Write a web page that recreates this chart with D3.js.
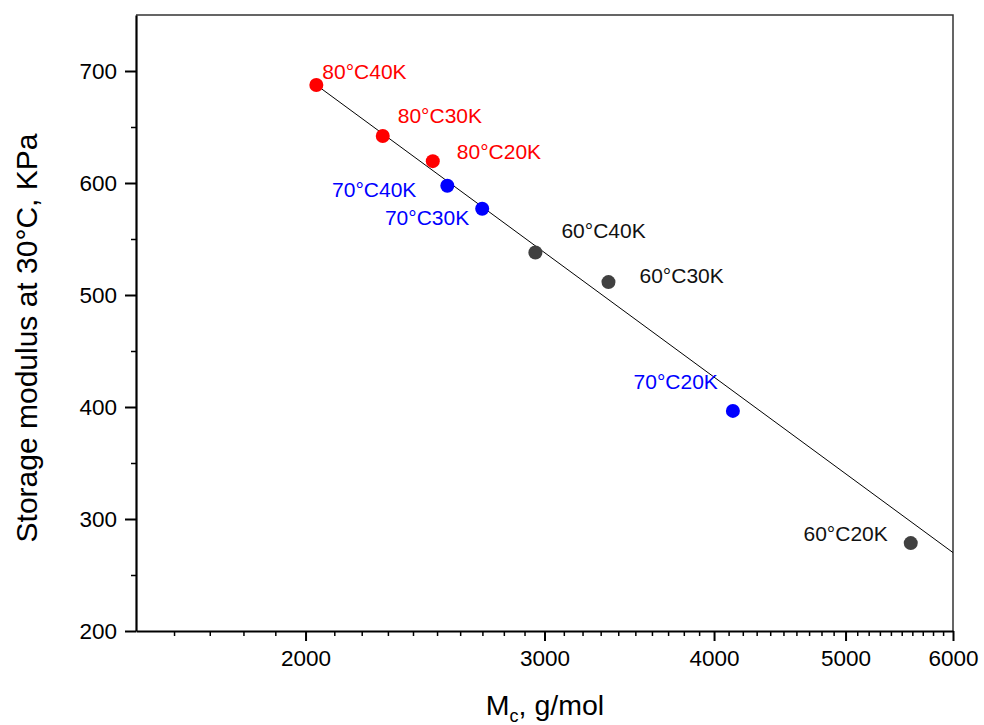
<!DOCTYPE html>
<html>
<head>
<meta charset="utf-8">
<script src="https://cdn.jsdelivr.net/npm/d3@7/dist/d3.min.js"></script>
<style>
  html, body { margin: 0; padding: 0; background: #fff; }
  svg { display: block; font-family: Arial, "Liberation Sans", sans-serif; }
</style>
</head>
<body>
<svg id="chart" width="984" height="725"></svg>
<script>
// Sample names, crosslink density Mc (g/mol) and storage modulus at 30 °C (KPa)
const samples = ["80°C40K", "80°C30K", "80°C20K", "70°C40K", "70°C30K",
                 "60°C40K", "60°C30K", "70°C20K", "60°C20K"];
const mcValues = [2037, 2280, 2482, 2544, 2699, 2954, 3344, 4130, 5585];
const modulusValues = [687.5, 642, 619.5, 597.5, 577, 538, 511.5, 396.5, 278.5];
const groups = ["80", "80", "80", "70", "70", "60", "60", "70", "60"];

// Linear fit in log(Mc): end points of the drawn line
const fitMc = [2037, 6000];
const fitModulus = [687.5, 270];

// Axis ticks
const xTickValues = [2000, 3000, 4000, 5000, 6000];
const yTickValues = [200, 300, 400, 500, 600, 700];

// Styling / layout
const groupColor = { "80": "#ff0000", "70": "#0000ff", "60": "#404040" };
const labelOffset = {
  "80°C40K": [6, -6, "start"],
  "80°C30K": [15, -13, "start"],
  "80°C20K": [24, -2, "start"],
  "70°C40K": [-31, 11, "end"],
  "70°C30K": [-13, 16, "end"],
  "60°C40K": [26, -14, "start"],
  "60°C30K": [31, 1, "start"],
  "70°C20K": [-15, -22, "end"],
  "60°C20K": [-23, -2, "end"]
};

const plotLeft = 136, plotRight = 953, plotTop = 15, plotBottom = 631;
const svg = d3.select("#chart");

const x = d3.scaleLog().domain([1500, 6000]).range([plotLeft, plotRight]);
const y = d3.scaleLinear().domain([200, 750]).range([plotBottom, plotTop]);

// Frame (top and right edges)
svg.append("path")
  .attr("d", `M${plotLeft},${plotTop}H${plotRight}V${plotBottom}`)
  .attr("fill", "none").attr("stroke", "#333").attr("stroke-width", 1.5);

// Minor ticks on x: every 100 g/mol
const xMinor = [];
for (let v = 1600; v < 6000; v += 100) if (!xTickValues.includes(v)) xMinor.push(v);
svg.append("g").attr("transform", `translate(0,${plotBottom})`)
  .call(d3.axisBottom(x).tickValues(xMinor).tickSize(5).tickFormat(""))
  .call(g => g.select(".domain").remove())
  .call(g => g.selectAll("line").attr("stroke", "#000").attr("stroke-width", 1.5));

// Major x axis
const xAxis = svg.append("g").attr("transform", `translate(0,${plotBottom})`)
  .call(d3.axisBottom(x).tickValues(xTickValues).tickSize(10).tickSizeOuter(0)
    .tickFormat(d3.format("d")).tickPadding(9));
xAxis.select(".domain").attr("stroke", "#000").attr("stroke-width", 2.2);
xAxis.selectAll(".tick line").attr("stroke", "#000").attr("stroke-width", 2);
xAxis.selectAll("text").attr("font-size", 22.5).attr("fill", "#000")
  .attr("font-family", "Arial, 'Liberation Sans', sans-serif");

// Minor ticks on y: midpoints
const yMinor = d3.range(250, 750, 100);
svg.append("g").attr("transform", `translate(${plotLeft},0)`)
  .call(d3.axisLeft(y).tickValues(yMinor).tickSize(5).tickFormat(""))
  .call(g => g.select(".domain").remove())
  .call(g => g.selectAll("line").attr("stroke", "#000").attr("stroke-width", 1.5));

// Major y axis
const yAxis = svg.append("g").attr("transform", `translate(${plotLeft},0)`)
  .call(d3.axisLeft(y).tickValues(yTickValues).tickSize(11).tickSizeOuter(0).tickPadding(8));
yAxis.select(".domain").attr("stroke", "#000").attr("stroke-width", 2.2);
yAxis.selectAll(".tick line").attr("stroke", "#000").attr("stroke-width", 2);
yAxis.selectAll("text").attr("font-size", 22.5).attr("fill", "#000")
  .attr("font-family", "Arial, 'Liberation Sans', sans-serif");

// Fit line
svg.append("line")
  .attr("x1", x(fitMc[0])).attr("y1", y(fitModulus[0]))
  .attr("x2", x(fitMc[1])).attr("y2", y(fitModulus[1]))
  .attr("stroke", "#000").attr("stroke-width", 1);

// Points
const points = samples.map((s, i) => ({ name: s, mc: mcValues[i], g: modulusValues[i], grp: groups[i] }));
svg.append("g").selectAll("circle").data(points).join("circle")
  .attr("cx", d => x(d.mc)).attr("cy", d => y(d.g)).attr("r", 7)
  .attr("fill", d => groupColor[d.grp]);

// Point labels
svg.append("g").selectAll("text").data(points).join("text")
  .attr("x", d => x(d.mc) + labelOffset[d.name][0])
  .attr("y", d => y(d.g) + labelOffset[d.name][1])
  .attr("text-anchor", d => labelOffset[d.name][2])
  .attr("font-size", 21)
  .attr("fill", d => d.grp === "60" ? "#111" : groupColor[d.grp])
  .text(d => d.name);

// Axis titles
const xTitle = svg.append("text").attr("x", 545).attr("y", 715)
  .attr("text-anchor", "middle").attr("font-size", 28.5).attr("fill", "#000");
xTitle.append("tspan").text("M");
xTitle.append("tspan").attr("font-size", 18).attr("dy", 7).text("c");
xTitle.append("tspan").attr("dy", -7).text(", g/mol");

svg.append("text")
  .attr("transform", "translate(37,338) rotate(-90)")
  .attr("text-anchor", "middle").attr("font-size", 30).attr("fill", "#000")
  .text("Storage modulus at 30°C, KPa");
</script>
</body>
</html>
